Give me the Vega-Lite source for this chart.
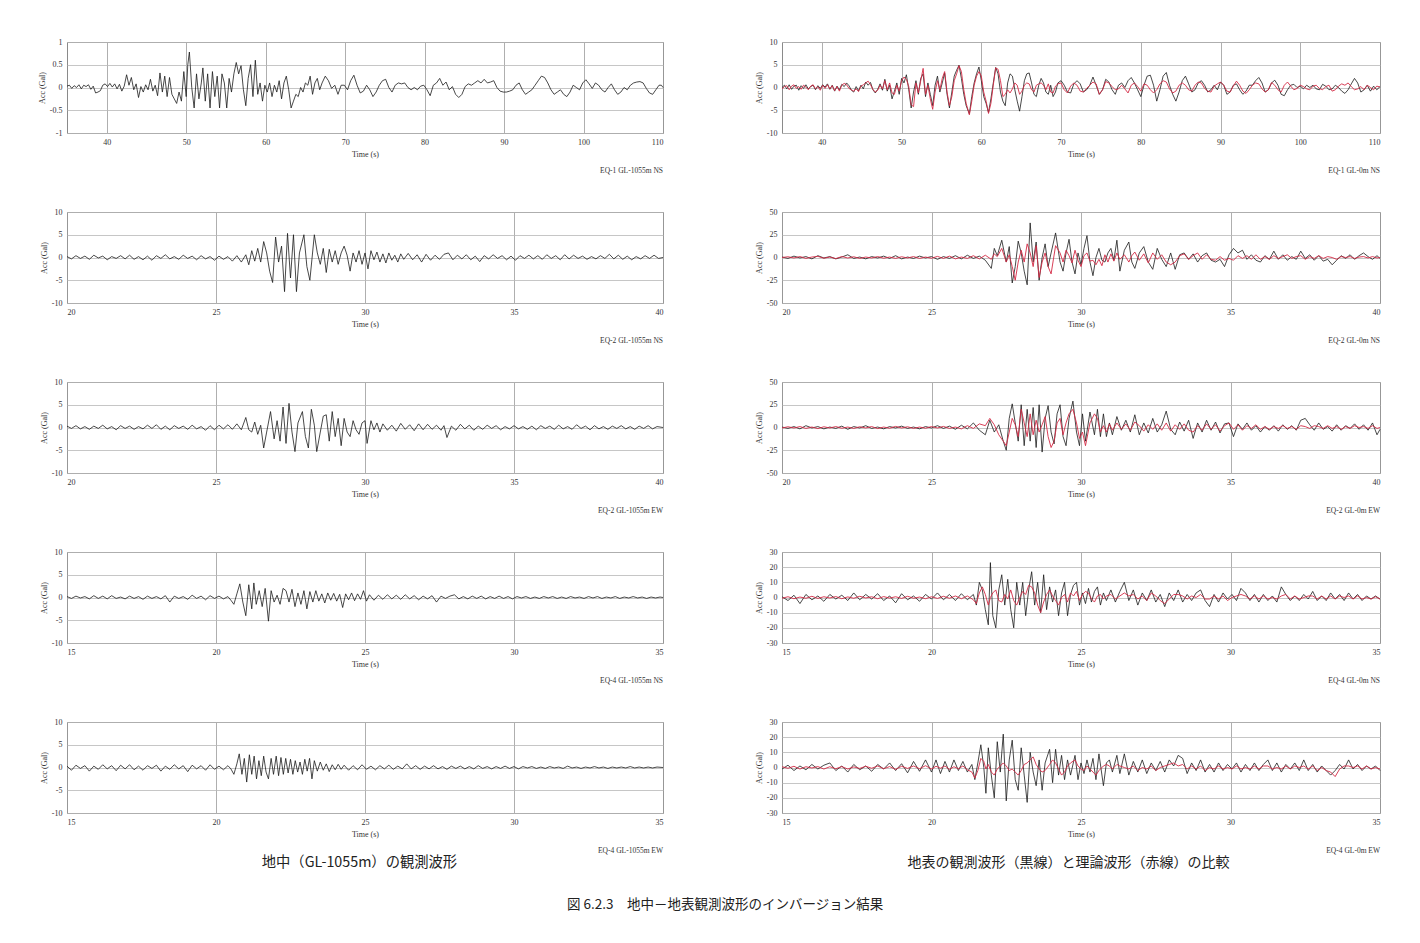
{
"$schema":"https://vega.github.io/schema/vega-lite/v6.json",
"background":"#ffffff",
"padding":{"left":37,"top":37,"right":10,"bottom":10},
"config":{
 "font":"Liberation Serif",
 "view":{"stroke":"#8a8a8a","strokeWidth":1},
 "axis":{"labelFont":"Liberation Serif","labelFontSize":8,"labelColor":"#333333","titleFont":"Liberation Serif","titleFontSize":8,"titleFontWeight":"normal","titleColor":"#333333","domain":false,"ticks":false,"gridColor":"#9a9a9a","gridWidth":0.8,"labelPadding":5},
 "axisX":{"titlePadding":4},
 "axisY":{"titlePadding":3,"gridColor":"#b8b8b8","labelExpr":"'' + datum.value"}
},
"title":{"text":"図 6.2.3　地中－地表観測波形のインバージョン結果","orient":"bottom","anchor":"middle","font":"Noto Sans CJK JP","fontSize":13.5,"fontWeight":"normal","color":"#222222","offset":28,"dx":15},
"datasets":{
"e1l":[{"t":35,"a":0.03},{"t":35.3,"a":0.05},{"t":35.6,"a":-0.02},{"t":35.9,"a":0.04},{"t":36.2,"a":0},{"t":36.5,"a":0.06},{"t":36.8,"a":-0.03},{"t":37.1,"a":0.05},{"t":37.4,"a":0.02},{"t":37.7,"a":0.06},{"t":38,"a":-0.04},{"t":38.3,"a":0.03},{"t":38.6,"a":-0.12},{"t":38.9,"a":-0.1},{"t":39.2,"a":-0.07},{"t":39.5,"a":0.05},{"t":39.8,"a":0.08},{"t":40.1,"a":0.02},{"t":40.4,"a":0.09},{"t":40.7,"a":0.01},{"t":41,"a":0.08},{"t":41.3,"a":-0.03},{"t":41.6,"a":0.07},{"t":41.9,"a":-0.08},{"t":42.2,"a":0.03},{"t":42.5,"a":0.28},{"t":42.8,"a":0.05},{"t":43.1,"a":0.22},{"t":43.4,"a":-0.05},{"t":43.7,"a":0.08},{"t":44,"a":-0.22},{"t":44.3,"a":0.02},{"t":44.6,"a":-0.1},{"t":44.9,"a":0.06},{"t":45.2,"a":-0.05},{"t":45.5,"a":0.18},{"t":45.8,"a":-0.08},{"t":46.1,"a":0.05},{"t":46.4,"a":-0.18},{"t":46.7,"a":0.32},{"t":47,"a":-0.1},{"t":47.3,"a":0.25},{"t":47.6,"a":-0.2},{"t":47.9,"a":0.22},{"t":48.2,"a":-0.15},{"t":48.5,"a":-0.25},{"t":48.8,"a":-0.35},{"t":49.1,"a":-0.1},{"t":49.4,"a":-0.3},{"t":49.7,"a":0.35},{"t":50,"a":-0.2},{"t":50.2,"a":0.5},{"t":50.4,"a":0.78},{"t":50.7,"a":0},{"t":51,"a":-0.45},{"t":51.3,"a":0.3},{"t":51.6,"a":-0.25},{"t":51.9,"a":0.1},{"t":52.1,"a":0.43},{"t":52.4,"a":-0.3},{"t":52.7,"a":0.3},{"t":53,"a":-0.45},{"t":53.3,"a":0.35},{"t":53.6,"a":-0.2},{"t":53.9,"a":0.25},{"t":54.2,"a":-0.45},{"t":54.5,"a":0.3},{"t":54.8,"a":0.1},{"t":55.1,"a":-0.45},{"t":55.4,"a":0.2},{"t":55.7,"a":-0.1},{"t":56,"a":0.3},{"t":56.3,"a":0.55},{"t":56.6,"a":0.3},{"t":56.9,"a":0.48},{"t":57.2,"a":-0.05},{"t":57.5,"a":-0.4},{"t":57.8,"a":0.2},{"t":58.1,"a":0.5},{"t":58.4,"a":-0.2},{"t":58.7,"a":0.6},{"t":59,"a":-0.15},{"t":59.3,"a":0.1},{"t":59.6,"a":-0.3},{"t":59.9,"a":0.05},{"t":60.2,"a":-0.1},{"t":60.5,"a":0.1},{"t":60.8,"a":-0.2},{"t":61.1,"a":0.05},{"t":61.4,"a":-0.1},{"t":61.7,"a":0.15},{"t":62,"a":-0.25},{"t":62.3,"a":0.1},{"t":62.6,"a":0.25},{"t":62.9,"a":-0.05},{"t":63.2,"a":-0.45},{"t":63.5,"a":-0.3},{"t":63.8,"a":-0.15},{"t":64.1,"a":-0.2},{"t":64.4,"a":0},{"t":64.7,"a":-0.1},{"t":65,"a":0.1},{"t":65.3,"a":0.05},{"t":65.6,"a":0.25},{"t":65.9,"a":-0.15},{"t":66.2,"a":0.1},{"t":66.5,"a":0.2},{"t":66.8,"a":-0.05},{"t":67.1,"a":0.1},{"t":67.5,"a":0.25},{"t":67.9,"a":0.15},{"t":68.3,"a":-0.02},{"t":68.7,"a":0.05},{"t":69.1,"a":-0.15},{"t":69.5,"a":0.05},{"t":69.9,"a":0.05},{"t":70.3,"a":-0.05},{"t":70.7,"a":0.15},{"t":71.1,"a":0.27},{"t":71.5,"a":0.05},{"t":71.9,"a":-0.12},{"t":72.3,"a":-0.08},{"t":72.7,"a":0.05},{"t":73.1,"a":-0.05},{"t":73.5,"a":-0.2},{"t":73.9,"a":-0.1},{"t":74.3,"a":0.05},{"t":74.7,"a":0.15},{"t":75.1,"a":0.18},{"t":75.5,"a":0},{"t":75.9,"a":-0.1},{"t":76.3,"a":0.05},{"t":76.7,"a":0.1},{"t":77.1,"a":0.08},{"t":77.5,"a":0.1},{"t":77.9,"a":0},{"t":78.3,"a":-0.05},{"t":78.7,"a":0},{"t":79.1,"a":-0.05},{"t":79.5,"a":0.03},{"t":79.9,"a":0.05},{"t":80.3,"a":-0.05},{"t":80.7,"a":-0.18},{"t":81.1,"a":0.05},{"t":81.5,"a":0.1},{"t":81.9,"a":0.2},{"t":82.3,"a":0.05},{"t":82.7,"a":0.12},{"t":83.1,"a":-0.05},{"t":83.5,"a":0.02},{"t":83.9,"a":-0.15},{"t":84.3,"a":-0.22},{"t":84.7,"a":-0.15},{"t":85.1,"a":0.02},{"t":85.5,"a":0.08},{"t":85.9,"a":0.05},{"t":86.3,"a":0.1},{"t":86.7,"a":0.15},{"t":87.1,"a":0.1},{"t":87.5,"a":0.18},{"t":87.9,"a":0.1},{"t":88.3,"a":0.12},{"t":88.7,"a":0.15},{"t":89.1,"a":0},{"t":89.5,"a":-0.08},{"t":89.9,"a":-0.1},{"t":90.3,"a":-0.1},{"t":90.7,"a":-0.08},{"t":91.1,"a":-0.05},{"t":91.5,"a":0.05},{"t":91.9,"a":0.1},{"t":92.3,"a":-0.05},{"t":92.7,"a":-0.15},{"t":93.1,"a":-0.1},{"t":93.5,"a":-0.05},{"t":93.9,"a":0.05},{"t":94.3,"a":0.15},{"t":94.7,"a":0.25},{"t":95.1,"a":0.22},{"t":95.5,"a":0.1},{"t":95.9,"a":-0.05},{"t":96.3,"a":-0.15},{"t":96.7,"a":-0.1},{"t":97.1,"a":-0.05},{"t":97.5,"a":-0.15},{"t":97.9,"a":-0.2},{"t":98.3,"a":-0.1},{"t":98.7,"a":0.05},{"t":99.1,"a":0},{"t":99.5,"a":-0.05},{"t":99.9,"a":0.1},{"t":100.3,"a":0.17},{"t":100.7,"a":0.08},{"t":101.1,"a":-0.02},{"t":101.5,"a":0.1},{"t":101.9,"a":0.05},{"t":102.3,"a":-0.05},{"t":102.7,"a":-0.1},{"t":103.1,"a":0},{"t":103.5,"a":0.08},{"t":103.9,"a":-0.05},{"t":104.3,"a":-0.15},{"t":104.7,"a":-0.1},{"t":105.1,"a":0},{"t":105.5,"a":-0.05},{"t":105.9,"a":0.05},{"t":106.3,"a":0.1},{"t":106.7,"a":0.12},{"t":107.1,"a":0.13},{"t":107.5,"a":0.1},{"t":107.9,"a":-0.02},{"t":108.3,"a":-0.12},{"t":108.7,"a":-0.15},{"t":109.1,"a":-0.05},{"t":109.5,"a":0.05},{"t":109.8,"a":0.05},{"t":110,"a":0}],
"e1r":[{"t":35,"o":0,"c":-0.3},{"t":35.3,"o":0.5,"c":0.2},{"t":35.6,"o":-0.3,"c":0.4},{"t":35.9,"o":0.6,"c":-0.5},{"t":36.2,"o":-0.4,"c":0.3},{"t":36.5,"o":0.3,"c":0.6},{"t":36.8,"o":0.5,"c":-0.2},{"t":37.1,"o":-0.6,"c":0.2},{"t":37.4,"o":0.4,"c":-0.4},{"t":37.7,"o":-0.2,"c":0.5},{"t":38,"o":0.6,"c":0.1},{"t":38.3,"o":-0.3,"c":-0.5},{"t":38.6,"o":0.2,"c":0.3},{"t":38.9,"o":0.5,"c":0.6},{"t":39.2,"o":-0.5,"c":-0.3},{"t":39.5,"o":0.4,"c":0.2},{"t":39.8,"o":-0.2,"c":-0.6},{"t":40.1,"o":0.6,"c":0.5},{"t":40.4,"o":0.1,"c":-0.2},{"t":40.7,"o":0.8,"c":0.6},{"t":41,"o":-0.4,"c":-0.3},{"t":41.3,"o":0.5,"c":0.4},{"t":41.6,"o":-0.8,"c":-0.7},{"t":41.9,"o":0.3,"c":0.2},{"t":42.2,"o":-0.5,"c":-0.8},{"t":42.5,"o":0.7,"c":0.5},{"t":42.8,"o":0.2,"c":0.9},{"t":43.1,"o":1,"c":0.6},{"t":43.4,"o":0.4,"c":-0.2},{"t":43.7,"o":-0.6,"c":-0.5},{"t":44,"o":-1,"c":-0.8},{"t":44.3,"o":0.2,"c":-0.3},{"t":44.6,"o":-0.7,"c":-0.9},{"t":44.9,"o":0.5,"c":0.3},{"t":45.2,"o":-0.3,"c":0.6},{"t":45.5,"o":1.2,"c":1},{"t":45.8,"o":0.5,"c":1.4},{"t":46.1,"o":1.1,"c":0.6},{"t":46.4,"o":-0.5,"c":-0.4},{"t":46.7,"o":-1.2,"c":-1},{"t":47,"o":-0.4,"c":-0.6},{"t":47.3,"o":0.8,"c":0.5},{"t":47.6,"o":-0.6,"c":-0.3},{"t":47.9,"o":1.8,"c":1.5},{"t":48.2,"o":-0.8,"c":-0.5},{"t":48.5,"o":0.5,"c":1},{"t":48.8,"o":-2.5,"c":-1.2},{"t":49.1,"o":-0.8,"c":-1.5},{"t":49.4,"o":1,"c":0.5},{"t":49.7,"o":-1.5,"c":-0.8},{"t":50,"o":2,"c":1.5},{"t":50.3,"o":1,"c":2.3},{"t":50.6,"o":2.8,"c":1.8},{"t":50.9,"o":-0.5,"c":0.2},{"t":51.2,"o":-4.5,"c":-3.8},{"t":51.5,"o":-1,"c":-4.2},{"t":51.8,"o":1.5,"c":1},{"t":52.1,"o":-1.5,"c":-1.2},{"t":52.4,"o":2,"c":1.5},{"t":52.7,"o":3,"c":4.2},{"t":53,"o":-2,"c":-1.5},{"t":53.3,"o":1,"c":0.5},{"t":53.6,"o":-1.5,"c":-2.5},{"t":53.9,"o":-4,"c":-4.8},{"t":54.2,"o":0.5,"c":-1},{"t":54.5,"o":2.5,"c":1.5},{"t":54.8,"o":-1,"c":-0.5},{"t":55.1,"o":1,"c":2},{"t":55.4,"o":3.2,"c":3.5},{"t":55.7,"o":-1.5,"c":-1},{"t":56,"o":-4.5,"c":-4},{"t":56.3,"o":-1,"c":-2},{"t":56.6,"o":2.5,"c":1.5},{"t":56.9,"o":3.8,"c":3},{"t":57.2,"o":4.9,"c":4.8},{"t":57.5,"o":2,"c":3.5},{"t":57.8,"o":-1.5,"c":-0.5},{"t":58.1,"o":-4,"c":-3.5},{"t":58.5,"o":-5.8,"c":-6},{"t":58.8,"o":-2,"c":-3},{"t":59.1,"o":1,"c":0.5},{"t":59.4,"o":3,"c":2.5},{"t":59.7,"o":4.5,"c":3.5},{"t":60,"o":1.5,"c":2.5},{"t":60.3,"o":-2,"c":-1},{"t":60.6,"o":-3.5,"c":-3},{"t":60.9,"o":-5.5,"c":-5.7},{"t":61.2,"o":-2.5,"c":-3.5},{"t":61.5,"o":1,"c":0.5},{"t":61.8,"o":4.4,"c":4.3},{"t":62.1,"o":3,"c":4},{"t":62.4,"o":-1,"c":1.5},{"t":62.7,"o":-3,"c":-2},{"t":63,"o":-4,"c":-1.5},{"t":63.3,"o":1,"c":-0.5},{"t":63.6,"o":3,"c":-1.2},{"t":63.9,"o":2.5,"c":-0.3},{"t":64.2,"o":-0.5,"c":1},{"t":64.5,"o":-3,"c":0.5},{"t":64.8,"o":-5.2,"c":-1.5},{"t":65.1,"o":-2,"c":-0.8},{"t":65.4,"o":1.5,"c":0.5},{"t":65.7,"o":3,"c":1},{"t":66,"o":3.2,"c":0.8},{"t":66.3,"o":1,"c":-0.5},{"t":66.6,"o":-1.5,"c":-1},{"t":66.9,"o":-2,"c":0.5},{"t":67.2,"o":0.5,"c":0.8},{"t":67.5,"o":2,"c":1},{"t":67.8,"o":1,"c":0.5},{"t":68.1,"o":-1,"c":-0.5},{"t":68.4,"o":-1.5,"c":0.8},{"t":68.7,"o":0.5,"c":-1},{"t":69,"o":-2,"c":-1.2},{"t":69.3,"o":-1,"c":0.3},{"t":69.6,"o":1,"c":0.8},{"t":70,"o":1.5,"c":1},{"t":70.4,"o":0.5,"c":-0.5},{"t":70.8,"o":-1,"c":-1.2},{"t":71.2,"o":-1.2,"c":0.3},{"t":71.6,"o":0.8,"c":1},{"t":72,"o":1.5,"c":0.5},{"t":72.4,"o":0.8,"c":-0.8},{"t":72.8,"o":-1,"c":-1},{"t":73.2,"o":-0.5,"c":-0.2},{"t":73.6,"o":0.5,"c":0.5},{"t":74,"o":2.3,"c":1.2},{"t":74.4,"o":0.5,"c":0.8},{"t":74.8,"o":-1.5,"c":-1.5},{"t":75.2,"o":-0.5,"c":-0.5},{"t":75.6,"o":1.8,"c":1.3},{"t":76,"o":1.2,"c":1},{"t":76.4,"o":-0.5,"c":0.2},{"t":76.8,"o":-1.5,"c":-0.5},{"t":77.2,"o":0.5,"c":-0.3},{"t":77.6,"o":1,"c":0.5},{"t":78,"o":0,"c":-0.3},{"t":78.4,"o":1.5,"c":-1.2},{"t":78.8,"o":2.2,"c":0.5},{"t":79.2,"o":1,"c":1},{"t":79.6,"o":-0.5,"c":0.2},{"t":80,"o":-2,"c":-0.8},{"t":80.4,"o":0.5,"c":0.8},{"t":80.8,"o":2.5,"c":0.5},{"t":81.2,"o":2.7,"c":-0.5},{"t":81.6,"o":0.5,"c":-1.2},{"t":82,"o":-3,"c":-0.5},{"t":82.4,"o":-0.5,"c":0.8},{"t":82.8,"o":2.5,"c":1.5},{"t":83.2,"o":3.3,"c":1.2},{"t":83.6,"o":0.5,"c":-0.3},{"t":84,"o":-1.5,"c":-1.2},{"t":84.4,"o":-3,"c":-0.8},{"t":84.8,"o":-1,"c":0.5},{"t":85.2,"o":1.5,"c":1},{"t":85.6,"o":2.5,"c":0.5},{"t":86,"o":0.8,"c":-0.5},{"t":86.4,"o":-1,"c":-0.8},{"t":86.8,"o":-0.5,"c":0.5},{"t":87.2,"o":1,"c":1.2},{"t":87.6,"o":1.5,"c":1},{"t":88,"o":0.5,"c":-0.2},{"t":88.4,"o":-1,"c":-0.8},{"t":88.8,"o":-0.5,"c":-1},{"t":89.2,"o":0.5,"c":0.3},{"t":89.6,"o":-0.5,"c":0.8},{"t":90,"o":1.2,"c":1.2},{"t":90.4,"o":0.5,"c":0.5},{"t":90.8,"o":-1.5,"c":-0.8},{"t":91.2,"o":-1,"c":-1},{"t":91.6,"o":0.5,"c":0.3},{"t":92,"o":0.8,"c":1.4},{"t":92.4,"o":-0.5,"c":0.5},{"t":92.8,"o":-1.5,"c":-0.8},{"t":93.2,"o":-0.8,"c":-1.3},{"t":93.6,"o":0.5,"c":-0.5},{"t":94,"o":0.5,"c":0.5},{"t":94.4,"o":1.5,"c":1},{"t":94.8,"o":2.2,"c":0.8},{"t":95.2,"o":1,"c":-0.3},{"t":95.6,"o":-1,"c":-1},{"t":96,"o":-0.5,"c":-0.5},{"t":96.4,"o":1,"c":1.1},{"t":96.8,"o":1.6,"c":0.5},{"t":97.2,"o":0.5,"c":-0.5},{"t":97.6,"o":-1.5,"c":-1},{"t":98,"o":-1.8,"c":0.5},{"t":98.4,"o":-0.5,"c":1.2},{"t":98.8,"o":0.5,"c":0.3},{"t":99.2,"o":0.7,"c":-0.5},{"t":99.6,"o":0,"c":-0.2},{"t":100,"o":0.3,"c":0.5},{"t":100.4,"o":-0.3,"c":0.2},{"t":100.8,"o":0.5,"c":-0.3},{"t":101.2,"o":0,"c":-0.5},{"t":101.6,"o":0.5,"c":0.3},{"t":102,"o":-0.3,"c":0.5},{"t":102.4,"o":-0.5,"c":-0.2},{"t":102.8,"o":0.7,"c":-0.5},{"t":103.2,"o":0.3,"c":0.2},{"t":103.6,"o":-0.5,"c":0.5},{"t":104,"o":-0.3,"c":-0.8},{"t":104.4,"o":0.5,"c":-0.5},{"t":104.8,"o":0,"c":0.3},{"t":105.2,"o":-0.8,"c":0.8},{"t":105.6,"o":-1.3,"c":0.5},{"t":106,"o":-0.5,"c":1},{"t":106.4,"o":0.8,"c":0.2},{"t":106.8,"o":2,"c":-0.5},{"t":107.2,"o":1,"c":-0.3},{"t":107.6,"o":-1,"c":0.2},{"t":108,"o":-0.5,"c":-0.5},{"t":108.4,"o":0.5,"c":0.5},{"t":108.8,"o":-0.8,"c":0},{"t":109.2,"o":0.3,"c":-0.5},{"t":109.6,"o":-0.5,"c":0.3},{"t":110,"o":0.2,"c":0.1}],
"e2nl":[{"t":20,"a":0.2},{"t":20.15,"a":-0.3},{"t":20.3,"a":0.4},{"t":20.45,"a":-0.2},{"t":20.6,"a":0.3},{"t":20.75,"a":-0.4},{"t":20.9,"a":0.5},{"t":21.05,"a":-0.1},{"t":21.2,"a":0.3},{"t":21.35,"a":-0.5},{"t":21.5,"a":0.2},{"t":21.65,"a":-0.2},{"t":21.8,"a":0.4},{"t":21.95,"a":-0.3},{"t":22.1,"a":0.5},{"t":22.25,"a":-0.4},{"t":22.4,"a":0.2},{"t":22.55,"a":-0.5},{"t":22.7,"a":0.3},{"t":22.85,"a":-0.6},{"t":23,"a":0.4},{"t":23.15,"a":-0.2},{"t":23.3,"a":0.6},{"t":23.45,"a":-0.3},{"t":23.6,"a":0.2},{"t":23.75,"a":-0.4},{"t":23.9,"a":0.5},{"t":24.05,"a":-0.2},{"t":24.2,"a":0.3},{"t":24.35,"a":-0.5},{"t":24.5,"a":0.4},{"t":24.65,"a":-0.3},{"t":24.8,"a":0.2},{"t":24.95,"a":-0.6},{"t":25.1,"a":0.3},{"t":25.25,"a":-0.4},{"t":25.4,"a":0.2},{"t":25.55,"a":-0.8},{"t":25.7,"a":0.4},{"t":25.85,"a":-1},{"t":26,"a":0.6},{"t":26.1,"a":-1.6},{"t":26.2,"a":1.5},{"t":26.3,"a":-0.8},{"t":26.4,"a":2},{"t":26.5,"a":-1},{"t":26.6,"a":3.5},{"t":26.7,"a":1},{"t":26.8,"a":-3},{"t":26.9,"a":-5.5},{"t":27,"a":4.5},{"t":27.1,"a":-1},{"t":27.2,"a":2.5},{"t":27.3,"a":-7.5},{"t":27.4,"a":5.3},{"t":27.5,"a":-4.5},{"t":27.6,"a":5},{"t":27.7,"a":-7.5},{"t":27.8,"a":1},{"t":27.95,"a":5},{"t":28.05,"a":-2},{"t":28.15,"a":-5},{"t":28.3,"a":5},{"t":28.4,"a":1},{"t":28.5,"a":-1.5},{"t":28.6,"a":2},{"t":28.7,"a":-3.3},{"t":28.8,"a":1.8},{"t":28.9,"a":-1},{"t":29,"a":1.5},{"t":29.1,"a":-1.5},{"t":29.2,"a":1},{"t":29.3,"a":2.5},{"t":29.4,"a":0.5},{"t":29.5,"a":-3},{"t":29.6,"a":1},{"t":29.7,"a":-1},{"t":29.8,"a":1.5},{"t":29.9,"a":-1.5},{"t":30,"a":1},{"t":30.1,"a":-2.5},{"t":30.2,"a":1.5},{"t":30.3,"a":-0.5},{"t":30.4,"a":1.2},{"t":30.5,"a":-1},{"t":30.6,"a":0.8},{"t":30.7,"a":-1.2},{"t":30.8,"a":1},{"t":30.9,"a":-0.6},{"t":31,"a":0.5},{"t":31.1,"a":-1},{"t":31.2,"a":0.8},{"t":31.3,"a":-0.4},{"t":31.45,"a":0.9},{"t":31.6,"a":-0.5},{"t":31.75,"a":0.6},{"t":31.9,"a":-1},{"t":32.05,"a":0.7},{"t":32.2,"a":-0.6},{"t":32.35,"a":0.5},{"t":32.5,"a":-0.4},{"t":32.65,"a":0.7},{"t":32.8,"a":1},{"t":32.95,"a":-0.5},{"t":33.1,"a":0.5},{"t":33.25,"a":-0.3},{"t":33.4,"a":0.6},{"t":33.55,"a":-0.5},{"t":33.7,"a":0.3},{"t":33.85,"a":-0.9},{"t":34,"a":0.4},{"t":34.15,"a":-0.3},{"t":34.3,"a":0.6},{"t":34.45,"a":-0.2},{"t":34.6,"a":0.4},{"t":34.75,"a":-0.5},{"t":34.9,"a":0.3},{"t":35.05,"a":-0.6},{"t":35.2,"a":0.4},{"t":35.35,"a":-0.2},{"t":35.5,"a":0.5},{"t":35.65,"a":-0.3},{"t":35.8,"a":0.4},{"t":35.95,"a":-0.4},{"t":36.1,"a":0.6},{"t":36.25,"a":-0.2},{"t":36.4,"a":0.4},{"t":36.55,"a":-0.5},{"t":36.7,"a":0.6},{"t":36.85,"a":-0.3},{"t":37,"a":0.5},{"t":37.15,"a":-0.2},{"t":37.3,"a":0.3},{"t":37.45,"a":-0.4},{"t":37.6,"a":0.2},{"t":37.75,"a":-0.3},{"t":37.9,"a":0.4},{"t":38.05,"a":-0.2},{"t":38.2,"a":0.7},{"t":38.35,"a":-0.3},{"t":38.5,"a":0.5},{"t":38.65,"a":-0.4},{"t":38.8,"a":0.3},{"t":38.95,"a":-0.5},{"t":39.1,"a":0.2},{"t":39.25,"a":-0.3},{"t":39.4,"a":0.4},{"t":39.55,"a":-0.2},{"t":39.7,"a":0.5},{"t":39.85,"a":-0.2},{"t":40,"a":0}],
"e2nr":[{"t":20,"o":0.5,"c":0},{"t":20.2,"o":-1,"c":0.8},{"t":20.4,"o":1.5,"c":-0.5},{"t":20.6,"o":-0.5,"c":1},{"t":20.8,"o":1,"c":-1},{"t":21,"o":-1.5,"c":0.5},{"t":21.2,"o":2,"c":1.2},{"t":21.4,"o":-0.5,"c":-0.8},{"t":21.6,"o":1,"c":0.5},{"t":21.8,"o":-1.5,"c":-1.2},{"t":22,"o":0.5,"c":1},{"t":22.2,"o":3,"c":-0.5},{"t":22.4,"o":-1,"c":0.8},{"t":22.6,"o":0.5,"c":-1},{"t":22.8,"o":-1.5,"c":0.5},{"t":23,"o":1,"c":-0.5},{"t":23.2,"o":-0.5,"c":1},{"t":23.4,"o":1.5,"c":-0.8},{"t":23.6,"o":-1,"c":0.5},{"t":23.8,"o":2,"c":-1},{"t":24,"o":-1.5,"c":0.8},{"t":24.2,"o":0.5,"c":-0.5},{"t":24.4,"o":-1,"c":1},{"t":24.6,"o":1.5,"c":-1},{"t":24.8,"o":-0.5,"c":0.5},{"t":25,"o":1,"c":-0.8},{"t":25.2,"o":-2,"c":1.2},{"t":25.4,"o":1,"c":-1},{"t":25.6,"o":-1,"c":1.5},{"t":25.8,"o":2,"c":-1.5},{"t":26,"o":-1.5,"c":0.5},{"t":26.2,"o":2.5,"c":-1},{"t":26.4,"o":-1,"c":2},{"t":26.6,"o":1.5,"c":-1.5},{"t":26.8,"o":-3,"c":2.5},{"t":27,"o":-12,"c":-2},{"t":27.1,"o":10,"c":4},{"t":27.2,"o":2,"c":1},{"t":27.35,"o":19,"c":10},{"t":27.5,"o":-5,"c":-5},{"t":27.6,"o":12,"c":3},{"t":27.7,"o":-28,"c":-10},{"t":27.8,"o":-10,"c":-25},{"t":27.9,"o":18,"c":-5},{"t":28,"o":5,"c":8},{"t":28.1,"o":-15,"c":-5},{"t":28.2,"o":-30,"c":15},{"t":28.3,"o":38,"c":5},{"t":28.4,"o":-5,"c":-10},{"t":28.5,"o":17,"c":13},{"t":28.6,"o":-25,"c":-22},{"t":28.7,"o":0,"c":-5},{"t":28.8,"o":15,"c":5},{"t":28.9,"o":-10,"c":-10},{"t":29,"o":5,"c":-18},{"t":29.15,"o":27,"c":13},{"t":29.3,"o":-5,"c":5},{"t":29.4,"o":-15,"c":-5},{"t":29.5,"o":5,"c":8},{"t":29.6,"o":20,"c":2},{"t":29.7,"o":-5,"c":-6},{"t":29.8,"o":-18,"c":8},{"t":29.9,"o":5,"c":-3},{"t":30,"o":-8,"c":-10},{"t":30.1,"o":10,"c":2},{"t":30.2,"o":24,"c":5},{"t":30.3,"o":-5,"c":-4},{"t":30.4,"o":-20,"c":-3},{"t":30.5,"o":0,"c":-8},{"t":30.6,"o":10,"c":-2},{"t":30.7,"o":-3,"c":-9},{"t":30.8,"o":-5,"c":3},{"t":30.9,"o":5,"c":-5},{"t":31,"o":10,"c":4},{"t":31.1,"o":-3,"c":-4},{"t":31.2,"o":19,"c":5},{"t":31.3,"o":-15,"c":-2},{"t":31.45,"o":8,"c":3},{"t":31.6,"o":17,"c":-5},{"t":31.7,"o":-5,"c":2},{"t":31.8,"o":-12,"c":6},{"t":31.95,"o":5,"c":-3},{"t":32.1,"o":12,"c":4},{"t":32.25,"o":-5,"c":-6},{"t":32.4,"o":-13,"c":5},{"t":32.55,"o":10,"c":-2},{"t":32.7,"o":-2,"c":3},{"t":32.85,"o":-10,"c":-5},{"t":33,"o":5,"c":-8},{"t":33.15,"o":-13,"c":-5},{"t":33.3,"o":3,"c":2},{"t":33.45,"o":5,"c":4},{"t":33.6,"o":-2,"c":-2},{"t":33.75,"o":4,"c":2},{"t":33.9,"o":-5,"c":5},{"t":34.05,"o":2,"c":-2},{"t":34.2,"o":5,"c":3},{"t":34.35,"o":-3,"c":-2},{"t":34.5,"o":-5,"c":-3},{"t":34.65,"o":-2,"c":1},{"t":34.8,"o":-10,"c":-3},{"t":34.95,"o":3,"c":-1},{"t":35.1,"o":10,"c":-3},{"t":35.25,"o":5,"c":2},{"t":35.4,"o":8,"c":-1},{"t":35.55,"o":-2,"c":2},{"t":35.7,"o":3,"c":-2},{"t":35.85,"o":-3,"c":3},{"t":36,"o":-5,"c":-2},{"t":36.15,"o":2,"c":1},{"t":36.3,"o":-2,"c":-2},{"t":36.45,"o":7,"c":2},{"t":36.6,"o":-2,"c":-1},{"t":36.75,"o":3,"c":1},{"t":36.9,"o":-3,"c":3},{"t":37.05,"o":1,"c":-1},{"t":37.2,"o":-2,"c":1},{"t":37.35,"o":7,"c":2},{"t":37.5,"o":-1,"c":-2},{"t":37.65,"o":3,"c":1},{"t":37.8,"o":-3,"c":-1},{"t":37.95,"o":2,"c":2},{"t":38.1,"o":-4,"c":-1},{"t":38.25,"o":-2,"c":1},{"t":38.4,"o":-8,"c":0},{"t":38.55,"o":-3,"c":-2},{"t":38.7,"o":2,"c":1},{"t":38.85,"o":-1,"c":0},{"t":39,"o":3,"c":1},{"t":39.15,"o":-2,"c":-1},{"t":39.3,"o":2,"c":0.5},{"t":39.45,"o":5,"c":1},{"t":39.6,"o":1,"c":-0.5},{"t":39.75,"o":-2,"c":1},{"t":39.9,"o":2,"c":-0.5},{"t":40,"o":-1,"c":0}],
"e2el":[{"t":20,"a":0.3},{"t":20.15,"a":-0.2},{"t":20.3,"a":0.4},{"t":20.45,"a":-0.3},{"t":20.6,"a":0.2},{"t":20.75,"a":-0.4},{"t":20.9,"a":0.3},{"t":21.05,"a":-0.2},{"t":21.2,"a":0.5},{"t":21.35,"a":-0.3},{"t":21.5,"a":0.2},{"t":21.65,"a":-0.5},{"t":21.8,"a":0.4},{"t":21.95,"a":-0.2},{"t":22.1,"a":0.3},{"t":22.25,"a":-0.4},{"t":22.4,"a":0.2},{"t":22.55,"a":-0.3},{"t":22.7,"a":0.5},{"t":22.85,"a":-0.2},{"t":23,"a":0.6},{"t":23.15,"a":-0.4},{"t":23.3,"a":0.3},{"t":23.45,"a":-0.5},{"t":23.6,"a":0.4},{"t":23.75,"a":-0.2},{"t":23.9,"a":0.3},{"t":24.05,"a":-0.4},{"t":24.2,"a":0.5},{"t":24.35,"a":-0.3},{"t":24.5,"a":0.2},{"t":24.65,"a":-0.6},{"t":24.8,"a":0.4},{"t":24.95,"a":-0.5},{"t":25.1,"a":0.5},{"t":25.25,"a":-0.3},{"t":25.4,"a":0.6},{"t":25.55,"a":-0.4},{"t":25.7,"a":0.8},{"t":25.85,"a":-0.5},{"t":26,"a":2.2},{"t":26.1,"a":-0.5},{"t":26.2,"a":-1},{"t":26.3,"a":1.2},{"t":26.4,"a":-1.5},{"t":26.5,"a":0.5},{"t":26.6,"a":-4.5},{"t":26.7,"a":-1},{"t":26.83,"a":3.5},{"t":26.95,"a":-2.5},{"t":27.05,"a":1.5},{"t":27.15,"a":-3},{"t":27.25,"a":4.5},{"t":27.35,"a":-3.5},{"t":27.45,"a":5.3},{"t":27.55,"a":-1},{"t":27.65,"a":-5.3},{"t":27.75,"a":1},{"t":27.9,"a":3.5},{"t":28,"a":-2},{"t":28.1,"a":-4.5},{"t":28.2,"a":4},{"t":28.3,"a":0.5},{"t":28.38,"a":-5.3},{"t":28.5,"a":-1},{"t":28.6,"a":2.5},{"t":28.7,"a":2.8},{"t":28.8,"a":-3},{"t":28.9,"a":3.5},{"t":29,"a":-2},{"t":29.1,"a":2},{"t":29.2,"a":-4},{"t":29.3,"a":2},{"t":29.4,"a":-1},{"t":29.5,"a":-2},{"t":29.6,"a":1.5},{"t":29.7,"a":-0.5},{"t":29.8,"a":-1.5},{"t":29.9,"a":1},{"t":30,"a":1.5},{"t":30.07,"a":-3.5},{"t":30.2,"a":1.5},{"t":30.3,"a":-0.5},{"t":30.4,"a":1},{"t":30.5,"a":-1},{"t":30.6,"a":0.8},{"t":30.75,"a":-0.6},{"t":30.9,"a":0.5},{"t":31.05,"a":-0.8},{"t":31.2,"a":0.9},{"t":31.35,"a":-0.4},{"t":31.5,"a":0.6},{"t":31.65,"a":-0.7},{"t":31.8,"a":0.8},{"t":31.95,"a":-0.5},{"t":32.1,"a":0.7},{"t":32.25,"a":-0.4},{"t":32.4,"a":0.5},{"t":32.55,"a":-0.6},{"t":32.65,"a":0.4},{"t":32.75,"a":-2.2},{"t":32.9,"a":0.3},{"t":33.05,"a":-0.6},{"t":33.2,"a":0.7},{"t":33.35,"a":-0.3},{"t":33.5,"a":0.5},{"t":33.65,"a":-0.6},{"t":33.8,"a":0.3},{"t":33.95,"a":-0.4},{"t":34.1,"a":0.5},{"t":34.25,"a":-0.2},{"t":34.4,"a":0.4},{"t":34.55,"a":-0.5},{"t":34.7,"a":0.2},{"t":34.85,"a":-0.3},{"t":35,"a":0.4},{"t":35.15,"a":-0.3},{"t":35.3,"a":0.2},{"t":35.45,"a":-0.4},{"t":35.6,"a":0.3},{"t":35.75,"a":-0.5},{"t":35.9,"a":0.4},{"t":36.05,"a":-0.2},{"t":36.2,"a":0.3},{"t":36.35,"a":-0.4},{"t":36.5,"a":0.5},{"t":36.65,"a":-0.3},{"t":36.8,"a":0.2},{"t":36.95,"a":-0.4},{"t":37.1,"a":0.6},{"t":37.25,"a":-0.2},{"t":37.4,"a":0.3},{"t":37.55,"a":-0.5},{"t":37.7,"a":0.4},{"t":37.85,"a":-0.3},{"t":38,"a":0.2},{"t":38.15,"a":-0.4},{"t":38.3,"a":0.3},{"t":38.45,"a":-0.2},{"t":38.6,"a":0.4},{"t":38.75,"a":-0.3},{"t":38.9,"a":0.2},{"t":39.05,"a":-0.4},{"t":39.2,"a":0.3},{"t":39.35,"a":-0.2},{"t":39.5,"a":0.4},{"t":39.65,"a":-0.3},{"t":39.8,"a":0.2},{"t":40,"a":0}],
"e2er":[{"t":20,"o":0.5,"c":-0.5},{"t":20.2,"o":-1,"c":0.8},{"t":20.4,"o":1,"c":-0.5},{"t":20.6,"o":-1.5,"c":1},{"t":20.8,"o":2,"c":-1},{"t":21,"o":-0.5,"c":0.5},{"t":21.2,"o":1,"c":-1.2},{"t":21.4,"o":-1.5,"c":0.8},{"t":21.6,"o":0.5,"c":-0.5},{"t":21.8,"o":-1,"c":1},{"t":22,"o":1.5,"c":-0.8},{"t":22.2,"o":-2,"c":0.5},{"t":22.4,"o":1,"c":-1},{"t":22.6,"o":-0.5,"c":0.8},{"t":22.8,"o":2,"c":-0.5},{"t":23,"o":-1,"c":1},{"t":23.2,"o":0.5,"c":-1.2},{"t":23.4,"o":-1.5,"c":0.5},{"t":23.6,"o":1,"c":-0.8},{"t":23.8,"o":-0.5,"c":1.2},{"t":24,"o":1.5,"c":-0.5},{"t":24.2,"o":-1,"c":0.8},{"t":24.4,"o":0.5,"c":-1},{"t":24.6,"o":-1.5,"c":0.5},{"t":24.8,"o":1,"c":-0.8},{"t":25,"o":-0.5,"c":1},{"t":25.2,"o":2,"c":-0.5},{"t":25.4,"o":-1,"c":1.2},{"t":25.6,"o":1.5,"c":-1},{"t":25.8,"o":-2,"c":0.5},{"t":26,"o":2.5,"c":-1.5},{"t":26.2,"o":-1.5,"c":2},{"t":26.4,"o":5,"c":-1},{"t":26.6,"o":-3,"c":4},{"t":26.8,"o":-8,"c":2},{"t":26.95,"o":8,"c":10},{"t":27.1,"o":-5,"c":3},{"t":27.25,"o":3,"c":-8},{"t":27.4,"o":-15,"c":-15},{"t":27.5,"o":-25,"c":-20},{"t":27.6,"o":10,"c":-5},{"t":27.7,"o":26,"c":10},{"t":27.8,"o":5,"c":3},{"t":27.9,"o":-15,"c":-10},{"t":28,"o":25,"c":20},{"t":28.1,"o":-20,"c":5},{"t":28.2,"o":20,"c":-10},{"t":28.3,"o":-15,"c":15},{"t":28.4,"o":22,"c":-8},{"t":28.5,"o":-22,"c":8},{"t":28.6,"o":25,"c":-5},{"t":28.7,"o":-27,"c":3},{"t":28.8,"o":10,"c":12},{"t":28.9,"o":24,"c":-10},{"t":29,"o":-5,"c":-22},{"t":29.1,"o":-18,"c":-15},{"t":29.2,"o":15,"c":5},{"t":29.3,"o":25,"c":10},{"t":29.4,"o":-10,"c":-8},{"t":29.5,"o":-20,"c":5},{"t":29.6,"o":10,"c":15},{"t":29.73,"o":29,"c":20},{"t":29.85,"o":-5,"c":5},{"t":29.95,"o":-20,"c":-12},{"t":30.05,"o":15,"c":-5},{"t":30.15,"o":-15,"c":-20},{"t":30.3,"o":17,"c":5},{"t":30.45,"o":-8,"c":15},{"t":30.55,"o":20,"c":10},{"t":30.65,"o":-10,"c":-5},{"t":30.75,"o":15,"c":2},{"t":30.85,"o":-10,"c":-5},{"t":30.95,"o":5,"c":4},{"t":31.05,"o":-8,"c":-3},{"t":31.2,"o":12,"c":5},{"t":31.35,"o":-3,"c":-2},{"t":31.5,"o":8,"c":4},{"t":31.65,"o":-5,"c":-3},{"t":31.8,"o":14,"c":6},{"t":31.95,"o":-8,"c":2},{"t":32.1,"o":5,"c":-4},{"t":32.25,"o":-6,"c":3},{"t":32.4,"o":10,"c":-2},{"t":32.55,"o":-5,"c":4},{"t":32.7,"o":3,"c":-3},{"t":32.85,"o":18,"c":5},{"t":33,"o":-2,"c":-4},{"t":33.15,"o":-8,"c":3},{"t":33.3,"o":6,"c":-2},{"t":33.45,"o":-4,"c":4},{"t":33.6,"o":8,"c":-3},{"t":33.75,"o":-12,"c":-5},{"t":33.9,"o":5,"c":2},{"t":34.05,"o":-5,"c":-3},{"t":34.2,"o":8,"c":4},{"t":34.35,"o":-3,"c":-2},{"t":34.5,"o":6,"c":3},{"t":34.65,"o":-6,"c":-4},{"t":34.8,"o":4,"c":2},{"t":34.95,"o":5,"c":5},{"t":35.1,"o":-10,"c":-2},{"t":35.25,"o":4,"c":3},{"t":35.4,"o":-2,"c":-3},{"t":35.55,"o":5,"c":2},{"t":35.7,"o":-3,"c":-1},{"t":35.85,"o":2,"c":3},{"t":36,"o":-5,"c":-2},{"t":36.15,"o":1,"c":1},{"t":36.3,"o":-3,"c":-2},{"t":36.45,"o":2,"c":1},{"t":36.6,"o":-4,"c":-1},{"t":36.75,"o":3,"c":2},{"t":36.9,"o":-2,"c":-1},{"t":37.05,"o":2,"c":1},{"t":37.2,"o":-3,"c":-2},{"t":37.35,"o":8,"c":2},{"t":37.5,"o":10,"c":1},{"t":37.65,"o":3,"c":-1},{"t":37.8,"o":-3,"c":2},{"t":37.95,"o":5,"c":1},{"t":38.1,"o":-2,"c":-1},{"t":38.25,"o":1,"c":2},{"t":38.4,"o":-4,"c":-1},{"t":38.55,"o":3,"c":1},{"t":38.7,"o":-3,"c":-2},{"t":38.85,"o":2,"c":1},{"t":39,"o":-1,"c":-1},{"t":39.15,"o":4,"c":2},{"t":39.3,"o":-2,"c":0},{"t":39.45,"o":3,"c":1},{"t":39.6,"o":-3,"c":-1},{"t":39.75,"o":5,"c":2},{"t":39.9,"o":-8,"c":-1},{"t":40,"o":-2,"c":0}],
"e4nl":[{"t":15,"a":0.2},{"t":15.15,"a":-0.2},{"t":15.3,"a":0.3},{"t":15.45,"a":-0.1},{"t":15.6,"a":0.2},{"t":15.75,"a":-0.3},{"t":15.9,"a":0.4},{"t":16.05,"a":-0.2},{"t":16.2,"a":0.3},{"t":16.35,"a":-0.3},{"t":16.5,"a":0.4},{"t":16.65,"a":-0.2},{"t":16.8,"a":0.1},{"t":16.95,"a":-0.3},{"t":17.1,"a":0.3},{"t":17.25,"a":-0.2},{"t":17.4,"a":0.2},{"t":17.55,"a":-0.4},{"t":17.7,"a":0.3},{"t":17.85,"a":-0.2},{"t":18,"a":0.2},{"t":18.15,"a":-0.3},{"t":18.3,"a":0.4},{"t":18.45,"a":-1},{"t":18.6,"a":0.3},{"t":18.75,"a":-0.2},{"t":18.9,"a":0.2},{"t":19.05,"a":-0.4},{"t":19.2,"a":0.5},{"t":19.35,"a":-0.2},{"t":19.5,"a":0.3},{"t":19.65,"a":-0.5},{"t":19.8,"a":0.4},{"t":19.95,"a":-0.2},{"t":20.1,"a":0.3},{"t":20.25,"a":-0.3},{"t":20.4,"a":0.2},{"t":20.5,"a":-0.6},{"t":20.6,"a":-1.5},{"t":20.7,"a":0.8},{"t":20.8,"a":3},{"t":20.9,"a":-1},{"t":21,"a":-4},{"t":21.1,"a":2.8},{"t":21.2,"a":-2.5},{"t":21.27,"a":3.2},{"t":21.35,"a":-1.5},{"t":21.45,"a":1.5},{"t":21.55,"a":-2},{"t":21.65,"a":2},{"t":21.76,"a":-5.2},{"t":21.85,"a":1.5},{"t":21.95,"a":-1},{"t":22.05,"a":0.5},{"t":22.15,"a":-1.5},{"t":22.25,"a":2},{"t":22.35,"a":1.5},{"t":22.45,"a":-1},{"t":22.55,"a":1.8},{"t":22.65,"a":-2},{"t":22.75,"a":1},{"t":22.85,"a":-1.5},{"t":22.95,"a":1.5},{"t":23.05,"a":-2.5},{"t":23.15,"a":1.3},{"t":23.25,"a":-1},{"t":23.35,"a":1.5},{"t":23.45,"a":-0.8},{"t":23.55,"a":0.8},{"t":23.65,"a":-1.2},{"t":23.75,"a":1},{"t":23.85,"a":-0.6},{"t":23.95,"a":0.9},{"t":24.05,"a":-0.8},{"t":24.15,"a":0.7},{"t":24.25,"a":-2.2},{"t":24.35,"a":0.8},{"t":24.45,"a":-0.5},{"t":24.55,"a":1},{"t":24.65,"a":-0.7},{"t":24.75,"a":0.8},{"t":24.85,"a":-0.4},{"t":24.95,"a":1.5},{"t":25.05,"a":-0.8},{"t":25.15,"a":0.6},{"t":25.3,"a":-0.6},{"t":25.45,"a":0.5},{"t":25.6,"a":-0.4},{"t":25.75,"a":0.6},{"t":25.9,"a":-0.3},{"t":26.05,"a":0.5},{"t":26.2,"a":-0.4},{"t":26.35,"a":0.6},{"t":26.5,"a":-0.3},{"t":26.65,"a":0.4},{"t":26.8,"a":-0.5},{"t":26.95,"a":0.3},{"t":27.1,"a":-0.3},{"t":27.25,"a":0.4},{"t":27.4,"a":-1},{"t":27.55,"a":0.3},{"t":27.7,"a":-0.2},{"t":27.85,"a":0.3},{"t":28,"a":0.6},{"t":28.15,"a":-0.3},{"t":28.3,"a":0.2},{"t":28.45,"a":-0.3},{"t":28.6,"a":0.3},{"t":28.75,"a":-0.2},{"t":28.9,"a":0.3},{"t":29.05,"a":-0.3},{"t":29.2,"a":0.2},{"t":29.35,"a":-0.2},{"t":29.5,"a":0.3},{"t":29.65,"a":-0.2},{"t":29.8,"a":0.2},{"t":29.95,"a":-0.3},{"t":30.1,"a":0.2},{"t":30.25,"a":-0.1},{"t":30.4,"a":0.2},{"t":30.55,"a":-0.2},{"t":30.7,"a":0.1},{"t":30.85,"a":-0.2},{"t":31,"a":0.2},{"t":31.15,"a":-0.1},{"t":31.3,"a":0.2},{"t":31.45,"a":-0.2},{"t":31.6,"a":0.1},{"t":31.75,"a":-0.2},{"t":31.9,"a":0.2},{"t":32.05,"a":-0.1},{"t":32.2,"a":0.1},{"t":32.35,"a":-0.2},{"t":32.5,"a":0.2},{"t":32.65,"a":-0.1},{"t":32.8,"a":0.2},{"t":32.95,"a":-0.2},{"t":33.1,"a":0.1},{"t":33.25,"a":-0.1},{"t":33.4,"a":0.2},{"t":33.55,"a":-0.2},{"t":33.7,"a":0.1},{"t":33.85,"a":-0.1},{"t":34,"a":0.2},{"t":34.15,"a":-0.1},{"t":34.3,"a":0.1},{"t":34.45,"a":-0.2},{"t":34.6,"a":0.1},{"t":34.75,"a":-0.1},{"t":34.9,"a":0.1},{"t":35,"a":0}],
"e4nr":[{"t":15,"o":0.5,"c":-0.5},{"t":15.2,"o":-2,"c":0.5},{"t":15.4,"o":1.5,"c":-0.8},{"t":15.6,"o":-4,"c":0.3},{"t":15.8,"o":2,"c":-0.5},{"t":16,"o":-1.5,"c":0.8},{"t":16.2,"o":1,"c":-0.6},{"t":16.4,"o":-2.5,"c":0.5},{"t":16.6,"o":2,"c":-0.3},{"t":16.8,"o":-1,"c":0.6},{"t":17,"o":1.5,"c":-0.8},{"t":17.2,"o":-2,"c":0.4},{"t":17.4,"o":3,"c":-0.5},{"t":17.6,"o":-1.5,"c":0.8},{"t":17.8,"o":2,"c":-0.3},{"t":18,"o":-1,"c":0.5},{"t":18.2,"o":2.5,"c":-0.8},{"t":18.4,"o":-2,"c":0.6},{"t":18.6,"o":1,"c":-0.4},{"t":18.8,"o":-3.5,"c":0.5},{"t":19,"o":2.5,"c":-0.6},{"t":19.2,"o":-1.5,"c":0.8},{"t":19.4,"o":1,"c":-0.5},{"t":19.6,"o":-2.5,"c":0.3},{"t":19.8,"o":2,"c":-0.8},{"t":20,"o":-1,"c":0.5},{"t":20.2,"o":3,"c":-0.6},{"t":20.4,"o":-1.5,"c":0.8},{"t":20.6,"o":2,"c":-0.5},{"t":20.8,"o":-2,"c":1},{"t":21,"o":2.5,"c":-0.8},{"t":21.2,"o":-1.5,"c":1},{"t":21.4,"o":2,"c":-1.5},{"t":21.5,"o":-5,"c":-4},{"t":21.6,"o":10,"c":3},{"t":21.7,"o":5,"c":7},{"t":21.8,"o":-8,"c":2},{"t":21.9,"o":-18,"c":-5},{"t":21.97,"o":23,"c":0},{"t":22.05,"o":-12,"c":3},{"t":22.15,"o":-20,"c":5},{"t":22.25,"o":5,"c":-2},{"t":22.35,"o":15,"c":-3},{"t":22.45,"o":-5,"c":2},{"t":22.55,"o":12,"c":-1},{"t":22.65,"o":-8,"c":5},{"t":22.75,"o":-20,"c":-2},{"t":22.85,"o":10,"c":-5},{"t":22.95,"o":-5,"c":0},{"t":23.05,"o":10,"c":4},{"t":23.15,"o":-12,"c":2},{"t":23.25,"o":5,"c":8},{"t":23.35,"o":17,"c":7},{"t":23.45,"o":-5,"c":3},{"t":23.55,"o":10,"c":-5},{"t":23.65,"o":-10,"c":-10},{"t":23.75,"o":15,"c":-3},{"t":23.85,"o":-8,"c":2},{"t":23.95,"o":7,"c":5},{"t":24.05,"o":-3,"c":1},{"t":24.15,"o":5,"c":-2},{"t":24.25,"o":-12,"c":-5},{"t":24.35,"o":3,"c":0},{"t":24.45,"o":10,"c":2},{"t":24.55,"o":-12,"c":-3},{"t":24.65,"o":2,"c":3},{"t":24.75,"o":8,"c":1},{"t":24.85,"o":10,"c":4},{"t":24.95,"o":-5,"c":-2},{"t":25.05,"o":3,"c":2},{"t":25.15,"o":-4,"c":4},{"t":25.25,"o":6,"c":3},{"t":25.35,"o":-3,"c":-1},{"t":25.45,"o":4,"c":-3},{"t":25.55,"o":7,"c":1},{"t":25.65,"o":-5,"c":2},{"t":25.75,"o":3,"c":-1},{"t":25.85,"o":-2,"c":1},{"t":26,"o":5,"c":2},{"t":26.15,"o":-3,"c":-1},{"t":26.3,"o":4,"c":1},{"t":26.45,"o":10,"c":3},{"t":26.6,"o":-2,"c":1},{"t":26.75,"o":5,"c":2},{"t":26.9,"o":-5,"c":-1},{"t":27.05,"o":3,"c":1},{"t":27.2,"o":-2,"c":-2},{"t":27.35,"o":5,"c":3},{"t":27.5,"o":-3,"c":1},{"t":27.65,"o":2,"c":-2},{"t":27.8,"o":-6,"c":-4},{"t":27.95,"o":3,"c":-1},{"t":28.1,"o":-2,"c":2},{"t":28.25,"o":5,"c":2},{"t":28.4,"o":-3,"c":1},{"t":28.55,"o":2,"c":-1},{"t":28.7,"o":-2,"c":1},{"t":28.85,"o":3,"c":0},{"t":29,"o":5,"c":2},{"t":29.15,"o":-2,"c":-1},{"t":29.3,"o":-6,"c":-1},{"t":29.45,"o":2,"c":1},{"t":29.6,"o":-3,"c":-1},{"t":29.75,"o":3,"c":1},{"t":29.9,"o":-1,"c":-2},{"t":30.05,"o":2,"c":0},{"t":30.2,"o":-2,"c":1},{"t":30.35,"o":6,"c":2},{"t":30.5,"o":3,"c":1},{"t":30.65,"o":-2,"c":-1},{"t":30.8,"o":2,"c":1},{"t":30.95,"o":-3,"c":-1},{"t":31.1,"o":2,"c":1},{"t":31.25,"o":-2,"c":-1},{"t":31.4,"o":1,"c":0},{"t":31.55,"o":-3,"c":-1},{"t":31.7,"o":7,"c":1},{"t":31.85,"o":2,"c":2},{"t":32,"o":-2,"c":-1},{"t":32.15,"o":1,"c":1},{"t":32.3,"o":-2,"c":-1},{"t":32.45,"o":2,"c":0},{"t":32.6,"o":-1,"c":1},{"t":32.75,"o":4,"c":1},{"t":32.9,"o":-2,"c":-1},{"t":33.05,"o":1,"c":1},{"t":33.2,"o":-2,"c":-1},{"t":33.35,"o":3,"c":1},{"t":33.5,"o":-1,"c":-1},{"t":33.65,"o":2,"c":1},{"t":33.8,"o":-2,"c":0},{"t":33.95,"o":3,"c":1},{"t":34.1,"o":-1,"c":-1},{"t":34.25,"o":2,"c":1},{"t":34.4,"o":-2,"c":-1},{"t":34.55,"o":1,"c":0},{"t":34.7,"o":-1,"c":-1},{"t":34.85,"o":1,"c":0.5},{"t":35,"o":-1,"c":-1}],
"e4el":[{"t":15,"a":0.3},{"t":15.15,"a":-0.6},{"t":15.3,"a":0.5},{"t":15.45,"a":-0.2},{"t":15.6,"a":0.4},{"t":15.75,"a":-0.8},{"t":15.9,"a":0.3},{"t":16.05,"a":-0.4},{"t":16.2,"a":0.6},{"t":16.35,"a":-0.3},{"t":16.5,"a":0.4},{"t":16.65,"a":-0.7},{"t":16.8,"a":0.5},{"t":16.95,"a":-0.3},{"t":17.1,"a":0.6},{"t":17.25,"a":-0.5},{"t":17.4,"a":0.3},{"t":17.55,"a":-0.6},{"t":17.7,"a":0.4},{"t":17.85,"a":-0.2},{"t":18,"a":0.5},{"t":18.15,"a":-0.8},{"t":18.3,"a":0.3},{"t":18.45,"a":-0.4},{"t":18.6,"a":0.6},{"t":18.75,"a":-0.3},{"t":18.9,"a":0.4},{"t":19.05,"a":-0.9},{"t":19.2,"a":0.5},{"t":19.35,"a":-0.3},{"t":19.5,"a":0.4},{"t":19.65,"a":-0.6},{"t":19.8,"a":0.6},{"t":19.95,"a":-0.4},{"t":20.1,"a":0.3},{"t":20.25,"a":-0.5},{"t":20.4,"a":0.4},{"t":20.5,"a":-0.3},{"t":20.6,"a":-1.5},{"t":20.7,"a":0.8},{"t":20.78,"a":3},{"t":20.87,"a":-1.5},{"t":20.95,"a":2},{"t":21.03,"a":-3.2},{"t":21.12,"a":2.8},{"t":21.2,"a":-1.5},{"t":21.28,"a":2.5},{"t":21.36,"a":-2.5},{"t":21.44,"a":1.5},{"t":21.52,"a":-1.8},{"t":21.6,"a":2.5},{"t":21.68,"a":-1},{"t":21.76,"a":-2.5},{"t":21.85,"a":2},{"t":21.93,"a":-1.5},{"t":22.02,"a":2.5},{"t":22.1,"a":-1.8},{"t":22.18,"a":2.2},{"t":22.26,"a":-1.5},{"t":22.34,"a":2},{"t":22.42,"a":-1.2},{"t":22.5,"a":1.8},{"t":22.58,"a":-1.5},{"t":22.66,"a":1.5},{"t":22.74,"a":-1},{"t":22.82,"a":1.2},{"t":22.9,"a":-1.5},{"t":22.98,"a":1.8},{"t":23.06,"a":-0.8},{"t":23.14,"a":2},{"t":23.22,"a":-2.5},{"t":23.3,"a":1.5},{"t":23.4,"a":-0.8},{"t":23.5,"a":1.2},{"t":23.6,"a":-0.6},{"t":23.7,"a":0.8},{"t":23.8,"a":-0.9},{"t":23.9,"a":0.6},{"t":24,"a":-0.5},{"t":24.1,"a":0.7},{"t":24.2,"a":-0.4},{"t":24.3,"a":0.5},{"t":24.45,"a":-0.6},{"t":24.6,"a":0.4},{"t":24.75,"a":-0.5},{"t":24.9,"a":0.6},{"t":25.05,"a":-0.4},{"t":25.2,"a":0.3},{"t":25.35,"a":-0.5},{"t":25.5,"a":0.4},{"t":25.65,"a":-0.3},{"t":25.8,"a":0.5},{"t":25.95,"a":-0.4},{"t":26.1,"a":0.3},{"t":26.25,"a":-0.3},{"t":26.4,"a":0.8},{"t":26.55,"a":-0.3},{"t":26.7,"a":0.4},{"t":26.85,"a":-0.4},{"t":27,"a":0.3},{"t":27.15,"a":-0.3},{"t":27.3,"a":0.4},{"t":27.45,"a":-0.3},{"t":27.6,"a":0.2},{"t":27.75,"a":-0.4},{"t":27.9,"a":0.3},{"t":28.05,"a":-0.2},{"t":28.2,"a":0.3},{"t":28.35,"a":-0.3},{"t":28.5,"a":0.2},{"t":28.65,"a":-0.3},{"t":28.8,"a":0.4},{"t":28.95,"a":-0.2},{"t":29.1,"a":0.2},{"t":29.25,"a":-0.3},{"t":29.4,"a":0.2},{"t":29.55,"a":-0.2},{"t":29.7,"a":0.3},{"t":29.85,"a":-0.2},{"t":30,"a":0.2},{"t":30.15,"a":-0.3},{"t":30.3,"a":0.2},{"t":30.45,"a":-0.1},{"t":30.6,"a":0.2},{"t":30.75,"a":-0.2},{"t":30.9,"a":0.1},{"t":31.05,"a":-0.2},{"t":31.2,"a":0.2},{"t":31.35,"a":-0.1},{"t":31.5,"a":0.1},{"t":31.65,"a":-0.2},{"t":31.8,"a":0.3},{"t":31.95,"a":-0.1},{"t":32.1,"a":0.1},{"t":32.25,"a":-0.2},{"t":32.4,"a":0.1},{"t":32.55,"a":-0.1},{"t":32.7,"a":0.2},{"t":32.85,"a":-0.1},{"t":33,"a":0.1},{"t":33.15,"a":-0.2},{"t":33.3,"a":0.1},{"t":33.45,"a":-0.1},{"t":33.6,"a":0.1},{"t":33.75,"a":-0.1},{"t":33.9,"a":0.2},{"t":34.05,"a":-0.1},{"t":34.2,"a":0.1},{"t":34.35,"a":-0.1},{"t":34.5,"a":0.1},{"t":34.65,"a":-0.1},{"t":34.8,"a":0.1},{"t":35,"a":0}],
"e4er":[{"t":15,"o":-1,"c":0.5},{"t":15.2,"o":1.5,"c":-0.5},{"t":15.4,"o":-2,"c":0.8},{"t":15.6,"o":1,"c":-1},{"t":15.8,"o":-1.5,"c":0.5},{"t":16,"o":2,"c":-0.3},{"t":16.2,"o":-1,"c":0.6},{"t":16.4,"o":1.5,"c":-1},{"t":16.6,"o":3,"c":0.5},{"t":16.8,"o":-2,"c":-0.8},{"t":17,"o":1,"c":0.6},{"t":17.2,"o":-3,"c":-1},{"t":17.4,"o":2,"c":0.4},{"t":17.6,"o":-1.5,"c":-0.6},{"t":17.8,"o":1,"c":0.8},{"t":18,"o":-2.5,"c":-0.5},{"t":18.2,"o":2,"c":1},{"t":18.4,"o":-1,"c":-0.8},{"t":18.6,"o":3,"c":0.6},{"t":18.8,"o":-2,"c":-1.2},{"t":19,"o":2.5,"c":0.8},{"t":19.2,"o":-3.5,"c":-0.6},{"t":19.4,"o":4,"c":1},{"t":19.6,"o":-2.5,"c":-0.8},{"t":19.8,"o":5,"c":1.2},{"t":20,"o":-3,"c":-1},{"t":20.15,"o":5,"c":0.8},{"t":20.3,"o":-4,"c":-0.5},{"t":20.45,"o":4,"c":1},{"t":20.6,"o":-3,"c":-1.2},{"t":20.75,"o":5,"c":0.5},{"t":20.9,"o":-2,"c":-0.8},{"t":21.05,"o":4,"c":1},{"t":21.2,"o":-3,"c":-1.5},{"t":21.35,"o":2,"c":-3},{"t":21.45,"o":-8,"c":-7},{"t":21.55,"o":3,"c":-2},{"t":21.65,"o":15,"c":6},{"t":21.75,"o":0,"c":4},{"t":21.82,"o":-17,"c":-1},{"t":21.9,"o":13,"c":2},{"t":22,"o":-5,"c":-3},{"t":22.1,"o":-20,"c":-5},{"t":22.2,"o":17,"c":-1},{"t":22.3,"o":-3,"c":1},{"t":22.4,"o":22,"c":3},{"t":22.5,"o":-22,"c":1},{"t":22.6,"o":5,"c":-2},{"t":22.7,"o":18,"c":-1},{"t":22.8,"o":-8,"c":-3},{"t":22.9,"o":-15,"c":-5},{"t":23,"o":13,"c":-2},{"t":23.1,"o":-5,"c":2},{"t":23.2,"o":-23,"c":3},{"t":23.3,"o":10,"c":5},{"t":23.4,"o":-3,"c":7},{"t":23.5,"o":-12,"c":2},{"t":23.6,"o":5,"c":-1},{"t":23.7,"o":-15,"c":-3},{"t":23.8,"o":3,"c":-2},{"t":23.95,"o":12,"c":2},{"t":24.05,"o":-10,"c":5},{"t":24.15,"o":12,"c":3},{"t":24.25,"o":-5,"c":-1},{"t":24.35,"o":8,"c":-5},{"t":24.45,"o":-8,"c":-3},{"t":24.55,"o":5,"c":1},{"t":24.65,"o":-5,"c":3},{"t":24.8,"o":8,"c":5},{"t":24.9,"o":-8,"c":1},{"t":25,"o":3,"c":-1},{"t":25.1,"o":-4,"c":-2},{"t":25.2,"o":5,"c":1},{"t":25.3,"o":-3,"c":-1},{"t":25.4,"o":6,"c":-3},{"t":25.5,"o":-8,"c":-5},{"t":25.6,"o":9,"c":-2},{"t":25.75,"o":-12,"c":1},{"t":25.85,"o":3,"c":2},{"t":25.95,"o":5,"c":1},{"t":26.05,"o":-3,"c":-1},{"t":26.2,"o":8,"c":2},{"t":26.3,"o":-4,"c":1},{"t":26.45,"o":9,"c":0},{"t":26.6,"o":-5,"c":-1},{"t":26.75,"o":4,"c":1},{"t":26.9,"o":-3,"c":-2},{"t":27.05,"o":5,"c":0},{"t":27.2,"o":-4,"c":-1},{"t":27.35,"o":3,"c":1},{"t":27.5,"o":-2,"c":-2},{"t":27.65,"o":4,"c":0},{"t":27.8,"o":-3,"c":1},{"t":27.95,"o":5,"c":2},{"t":28.1,"o":1,"c":3},{"t":28.25,"o":8,"c":1},{"t":28.4,"o":6,"c":2},{"t":28.55,"o":-4,"c":-1},{"t":28.7,"o":3,"c":1},{"t":28.85,"o":-2,"c":-1},{"t":29,"o":5,"c":1},{"t":29.15,"o":-3,"c":-2},{"t":29.3,"o":2,"c":0},{"t":29.45,"o":-3,"c":-1},{"t":29.6,"o":3,"c":1},{"t":29.75,"o":-2,"c":-1},{"t":29.9,"o":2,"c":0},{"t":30.05,"o":-1,"c":-1},{"t":30.2,"o":3,"c":1},{"t":30.35,"o":-3,"c":-1},{"t":30.5,"o":2,"c":0},{"t":30.65,"o":-2,"c":-1},{"t":30.8,"o":3,"c":1},{"t":30.95,"o":-2,"c":-1},{"t":31.1,"o":2,"c":1},{"t":31.25,"o":5,"c":1},{"t":31.4,"o":-2,"c":-1},{"t":31.55,"o":3,"c":0},{"t":31.7,"o":-3,"c":-1},{"t":31.85,"o":2,"c":1},{"t":32,"o":-1,"c":-1},{"t":32.15,"o":3,"c":1},{"t":32.3,"o":-2,"c":0},{"t":32.45,"o":5,"c":1},{"t":32.6,"o":-2,"c":-1},{"t":32.75,"o":2,"c":1},{"t":32.9,"o":-3,"c":-2},{"t":33.05,"o":1,"c":0},{"t":33.2,"o":-2,"c":-2},{"t":33.35,"o":-5,"c":-3},{"t":33.5,"o":-2,"c":-6},{"t":33.65,"o":2,"c":-1},{"t":33.8,"o":-1,"c":1},{"t":33.95,"o":5,"c":1},{"t":34.1,"o":-1,"c":0},{"t":34.25,"o":2,"c":1},{"t":34.4,"o":-2,"c":-1},{"t":34.55,"o":1,"c":1},{"t":34.7,"o":-1,"c":-1},{"t":34.85,"o":1,"c":0},{"t":35,"o":-2,"c":-1}]
},
"hconcat":[
 {"spacing":32,
  "title":{"text":"地中（GL-1055m）の観測波形","orient":"bottom","anchor":"middle","font":"Noto Sans CJK JP","fontSize":14.3,"fontWeight":"normal","color":"#222222","offset":1,"dx":8},
  "vconcat":[
  {"width":596,"height":91,"data":{"name":"e1l"},
   "title":{"text":"EQ-1  GL-1055m  NS","orient":"bottom","anchor":"end","frame":"group","font":"Liberation Serif","fontSize":7.5,"fontWeight":"normal","color":"#333333","offset":9},
   "mark":{"type":"line","color":"#1a1a1a","strokeWidth":0.8},
   "encoding":{"x":{"field":"t","type":"quantitative","scale":{"domain":[35,110],"nice":false,"zero":false},"axis":{"values":[40,50,60,70,80,90,100,110],"title":"Time (s)"}},
    "y":{"field":"a","type":"quantitative","scale":{"domain":[-1,1],"nice":false},"axis":{"values":[-1,-0.5,0,0.5,1],"title":"Acc (Gal)"}}}},
  {"width":596,"height":91,"data":{"name":"e2nl"},
   "title":{"text":"EQ-2  GL-1055m  NS","orient":"bottom","anchor":"end","frame":"group","font":"Liberation Serif","fontSize":7.5,"fontWeight":"normal","color":"#333333","offset":9},
   "mark":{"type":"line","color":"#1a1a1a","strokeWidth":0.8},
   "encoding":{"x":{"field":"t","type":"quantitative","scale":{"domain":[20,40],"nice":false,"zero":false},"axis":{"values":[20,25,30,35,40],"title":"Time (s)"}},
    "y":{"field":"a","type":"quantitative","scale":{"domain":[-10,10],"nice":false},"axis":{"values":[-10,-5,0,5,10],"title":"Acc (Gal)"}}}},
  {"width":596,"height":91,"data":{"name":"e2el"},
   "title":{"text":"EQ-2  GL-1055m  EW","orient":"bottom","anchor":"end","frame":"group","font":"Liberation Serif","fontSize":7.5,"fontWeight":"normal","color":"#333333","offset":9},
   "mark":{"type":"line","color":"#1a1a1a","strokeWidth":0.8},
   "encoding":{"x":{"field":"t","type":"quantitative","scale":{"domain":[20,40],"nice":false,"zero":false},"axis":{"values":[20,25,30,35,40],"title":"Time (s)"}},
    "y":{"field":"a","type":"quantitative","scale":{"domain":[-10,10],"nice":false},"axis":{"values":[-10,-5,0,5,10],"title":"Acc (Gal)"}}}},
  {"width":596,"height":91,"data":{"name":"e4nl"},
   "title":{"text":"EQ-4  GL-1055m  NS","orient":"bottom","anchor":"end","frame":"group","font":"Liberation Serif","fontSize":7.5,"fontWeight":"normal","color":"#333333","offset":9},
   "mark":{"type":"line","color":"#1a1a1a","strokeWidth":0.8},
   "encoding":{"x":{"field":"t","type":"quantitative","scale":{"domain":[15,35],"nice":false,"zero":false},"axis":{"values":[15,20,25,30,35],"title":"Time (s)"}},
    "y":{"field":"a","type":"quantitative","scale":{"domain":[-10,10],"nice":false},"axis":{"values":[-10,-5,0,5,10],"title":"Acc (Gal)"}}}},
  {"width":596,"height":91,"data":{"name":"e4el"},
   "title":{"text":"EQ-4  GL-1055m  EW","orient":"bottom","anchor":"end","frame":"group","font":"Liberation Serif","fontSize":7.5,"fontWeight":"normal","color":"#333333","offset":9},
   "mark":{"type":"line","color":"#1a1a1a","strokeWidth":0.8},
   "encoding":{"x":{"field":"t","type":"quantitative","scale":{"domain":[15,35],"nice":false,"zero":false},"axis":{"values":[15,20,25,30,35],"title":"Time (s)"}},
    "y":{"field":"a","type":"quantitative","scale":{"domain":[-10,10],"nice":false},"axis":{"values":[-10,-5,0,5,10],"title":"Acc (Gal)"}}}}
  ]},
 {"spacing":32,
  "title":{"text":"地表の観測波形（黒線）と理論波形（赤線）の比較","orient":"bottom","anchor":"middle","font":"Noto Sans CJK JP","fontSize":14,"fontWeight":"normal","color":"#222222","offset":1},
  "vconcat":[
  {"width":598,"height":91,"data":{"name":"e1r"},
   "title":{"text":"EQ-1  GL-0m  NS","orient":"bottom","anchor":"end","frame":"group","font":"Liberation Serif","fontSize":7.5,"fontWeight":"normal","color":"#333333","offset":9},
   "encoding":{"x":{"field":"t","type":"quantitative","scale":{"domain":[35,110],"nice":false,"zero":false},"axis":{"values":[40,50,60,70,80,90,100,110],"title":"Time (s)"}}},
   "layer":[
    {"mark":{"type":"line","color":"#1a1a1a","strokeWidth":0.8},"encoding":{"y":{"field":"o","type":"quantitative","scale":{"domain":[-10,10],"nice":false},"axis":{"values":[-10,-5,0,5,10],"title":"Acc (Gal)"}}}},
    {"mark":{"type":"line","color":"#d42a45","strokeWidth":0.9},"encoding":{"y":{"field":"c","type":"quantitative","scale":{"domain":[-10,10],"nice":false},"axis":{"values":[-10,-5,0,5,10],"title":"Acc (Gal)"}}}}
   ]},
  {"width":598,"height":91,"data":{"name":"e2nr"},
   "title":{"text":"EQ-2  GL-0m  NS","orient":"bottom","anchor":"end","frame":"group","font":"Liberation Serif","fontSize":7.5,"fontWeight":"normal","color":"#333333","offset":9},
   "encoding":{"x":{"field":"t","type":"quantitative","scale":{"domain":[20,40],"nice":false,"zero":false},"axis":{"values":[20,25,30,35,40],"title":"Time (s)"}}},
   "layer":[
    {"mark":{"type":"line","color":"#1a1a1a","strokeWidth":0.8},"encoding":{"y":{"field":"o","type":"quantitative","scale":{"domain":[-50,50],"nice":false},"axis":{"values":[-50,-25,0,25,50],"title":"Acc (Gal)"}}}},
    {"mark":{"type":"line","color":"#d42a45","strokeWidth":0.9},"encoding":{"y":{"field":"c","type":"quantitative","scale":{"domain":[-50,50],"nice":false},"axis":{"values":[-50,-25,0,25,50],"title":"Acc (Gal)"}}}}
   ]},
  {"width":598,"height":91,"data":{"name":"e2er"},
   "title":{"text":"EQ-2  GL-0m  EW","orient":"bottom","anchor":"end","frame":"group","font":"Liberation Serif","fontSize":7.5,"fontWeight":"normal","color":"#333333","offset":9},
   "encoding":{"x":{"field":"t","type":"quantitative","scale":{"domain":[20,40],"nice":false,"zero":false},"axis":{"values":[20,25,30,35,40],"title":"Time (s)"}}},
   "layer":[
    {"mark":{"type":"line","color":"#1a1a1a","strokeWidth":0.8},"encoding":{"y":{"field":"o","type":"quantitative","scale":{"domain":[-50,50],"nice":false},"axis":{"values":[-50,-25,0,25,50],"title":"Acc (Gal)"}}}},
    {"mark":{"type":"line","color":"#d42a45","strokeWidth":0.9},"encoding":{"y":{"field":"c","type":"quantitative","scale":{"domain":[-50,50],"nice":false},"axis":{"values":[-50,-25,0,25,50],"title":"Acc (Gal)"}}}}
   ]},
  {"width":598,"height":91,"data":{"name":"e4nr"},
   "title":{"text":"EQ-4  GL-0m  NS","orient":"bottom","anchor":"end","frame":"group","font":"Liberation Serif","fontSize":7.5,"fontWeight":"normal","color":"#333333","offset":9},
   "encoding":{"x":{"field":"t","type":"quantitative","scale":{"domain":[15,35],"nice":false,"zero":false},"axis":{"values":[15,20,25,30,35],"title":"Time (s)"}}},
   "layer":[
    {"mark":{"type":"line","color":"#1a1a1a","strokeWidth":0.8},"encoding":{"y":{"field":"o","type":"quantitative","scale":{"domain":[-30,30],"nice":false},"axis":{"values":[-30,-20,-10,0,10,20,30],"title":"Acc (Gal)"}}}},
    {"mark":{"type":"line","color":"#d42a45","strokeWidth":0.9},"encoding":{"y":{"field":"c","type":"quantitative","scale":{"domain":[-30,30],"nice":false},"axis":{"values":[-30,-20,-10,0,10,20,30],"title":"Acc (Gal)"}}}}
   ]},
  {"width":598,"height":91,"data":{"name":"e4er"},
   "title":{"text":"EQ-4  GL-0m  EW","orient":"bottom","anchor":"end","frame":"group","font":"Liberation Serif","fontSize":7.5,"fontWeight":"normal","color":"#333333","offset":9},
   "encoding":{"x":{"field":"t","type":"quantitative","scale":{"domain":[15,35],"nice":false,"zero":false},"axis":{"values":[15,20,25,30,35],"title":"Time (s)"}}},
   "layer":[
    {"mark":{"type":"line","color":"#1a1a1a","strokeWidth":0.8},"encoding":{"y":{"field":"o","type":"quantitative","scale":{"domain":[-30,30],"nice":false},"axis":{"values":[-30,-20,-10,0,10,20,30],"title":"Acc (Gal)"}}}},
    {"mark":{"type":"line","color":"#d42a45","strokeWidth":0.9},"encoding":{"y":{"field":"c","type":"quantitative","scale":{"domain":[-30,30],"nice":false},"axis":{"values":[-30,-20,-10,0,10,20,30],"title":"Acc (Gal)"}}}}
   ]}
  ]}
],
"spacing":88
}
